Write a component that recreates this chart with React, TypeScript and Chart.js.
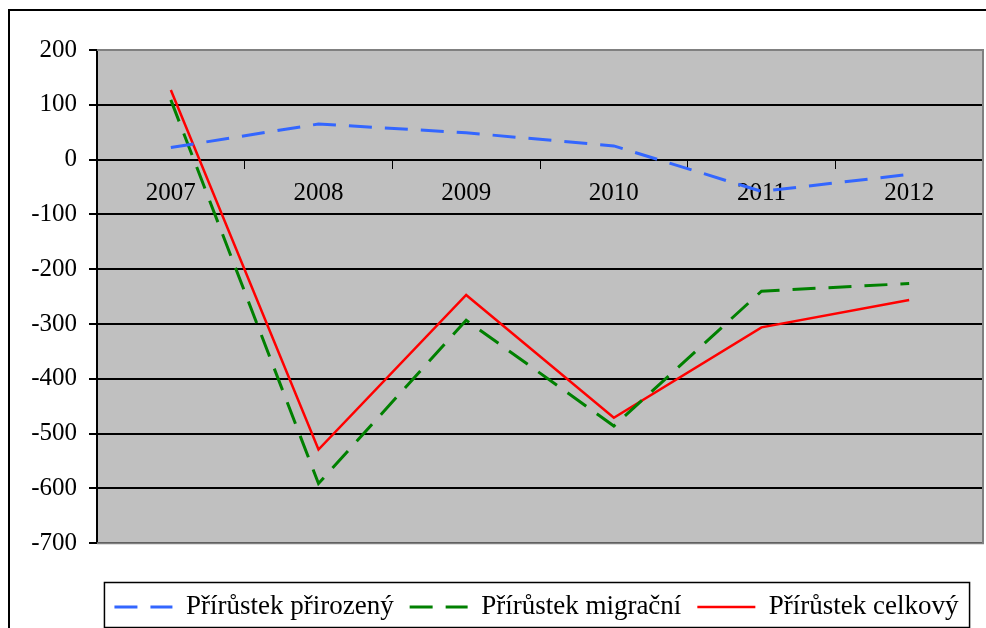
import React, { useEffect, useRef } from 'react';
import { Chart, registerables } from 'chart.js';

Chart.register(...registerables);

const categories = ['2007', '2008', '2009', '2010', '2011', '2012'];
const naturalGrowth = [22, 65, 49, 25, -58, -27];
const migrationGrowth = [109, -591, -293, -486, -240, -226];
const totalGrowth = [127, -529, -247, -471, -306, -256];
const seriesNames = ['Přírůstek přirozený', 'Přírůstek migrační', 'Přírůstek celkový'];
const yMin = -700;
const yMax = 200;
const yStep = 100;

const FONT = "'Liberation Serif', 'Times New Roman', serif";
const LEGEND_CENTER_X = 536.5;

const decorPlugin = {
  id: 'decor',
  afterUpdate(chart: any) {
    const lg = chart.legend;
    if (!lg) return;
    const dx = LEGEND_CENTER_X - (lg.left + lg.right) / 2;
    lg.left += dx;
    lg.right += dx;
    (lg.legendHitBoxes || []).forEach((h: any) => {
      h.left += dx;
    });
  },
  beforeDraw(chart: any) {
    const { ctx, chartArea: a } = chart;
    ctx.save();
    ctx.fillStyle = '#C0C0C0';
    ctx.fillRect(a.left, a.top, a.right - a.left, a.bottom - a.top);
    ctx.restore();
  },
  afterDraw(chart: any) {
    const { ctx, chartArea: a } = chart;
    ctx.save();
    // plot area border (top, right, bottom)
    ctx.strokeStyle = '#808080';
    ctx.lineWidth = 2;
    ctx.beginPath();
    ctx.moveTo(a.left, a.top);
    ctx.lineTo(a.right, a.top);
    ctx.lineTo(a.right, a.bottom);
    ctx.lineTo(a.left, a.bottom);
    ctx.stroke();
    // outer frame
    ctx.strokeStyle = '#000';
    ctx.lineWidth = 2;
    ctx.beginPath();
    ctx.moveTo(9, chart.height + 2);
    ctx.lineTo(9, 10);
    ctx.lineTo(chart.width + 2, 10);
    ctx.stroke();
    // legend box
    const hb = chart.legend && chart.legend.legendHitBoxes;
    if (hb && hb.length) {
      let l = Infinity, r = -Infinity, t = Infinity, b = -Infinity;
      hb.forEach((h: any) => {
        l = Math.min(l, h.left);
        r = Math.max(r, h.left + h.width);
        t = Math.min(t, h.top);
        b = Math.max(b, h.top + h.height);
      });
      ctx.strokeStyle = '#000';
      ctx.lineWidth = 1.5;
      ctx.strokeRect(l - 10, t - 11, r - l + 21, b - t + 18);
    }
    ctx.restore();
  },
};

export default function App() {
  const ref = useRef<HTMLCanvasElement>(null);
  useEffect(() => {
    if (!ref.current) return;
    const chart = new Chart(ref.current, {
      type: 'line',
      data: {
        labels: categories,
        datasets: [
          {
            label: seriesNames[0],
            data: naturalGrowth,
            borderColor: '#3366FF',
            backgroundColor: '#3366FF',
            borderWidth: 3,
            borderDash: [23, 13],
            pointRadius: 0,
            tension: 0,
          },
          {
            label: seriesNames[1],
            data: migrationGrowth,
            borderColor: '#008000',
            backgroundColor: '#008000',
            borderWidth: 3,
            borderDash: [23, 13],
            pointRadius: 0,
            tension: 0,
          },
          {
            label: seriesNames[2],
            data: totalGrowth,
            borderColor: '#FF0000',
            backgroundColor: '#FF0000',
            borderWidth: 2.5,
            pointRadius: 0,
            tension: 0,
          },
        ],
      },
      options: {
        animation: false,
        responsive: false,
        maintainAspectRatio: false,
        layout: { padding: { left: 20, right: 3, top: 50, bottom: -2.5 } },
        plugins: {
          tooltip: { enabled: false },
          legend: {
            position: 'bottom',
            title: { display: true, text: '', font: { size: 1 }, padding: { top: 33, bottom: 0 } },
            labels: {
              usePointStyle: true,
              pointStyle: 'line',
              pointStyleWidth: 58,
              boxHeight: 27,
              padding: 16,
              color: '#000',
              font: { family: FONT, size: 27 },
              generateLabels: (chart: any) => {
                const items = Chart.defaults.plugins.legend.labels.generateLabels(chart);
                return items.map((it: any) => {
                  const ds: any = chart.data.datasets[it.datasetIndex];
                  return {
                    ...it,
                    pointStyle: 'line',
                    strokeStyle: ds.borderColor,
                    fillStyle: ds.borderColor,
                    lineWidth: ds.borderWidth,
                    lineDash: ds.borderDash || [],
                    lineDashOffset: 0,
                  };
                });
              },
            },
          },
        },
        scales: {
          x: {
            type: 'category',
            position: { y: 0 } as any,
            offset: true,
            grid: {
              offset: true,
              drawOnChartArea: false,
              drawTicks: true,
              tickLength: 8,
              color: '#000',
              lineWidth: 1,
            },
            border: { display: true, color: '#000', width: 2 },
            ticks: {
              color: '#000',
              font: { family: FONT, size: 25 },
              padding: 11,
              maxRotation: 0,
              autoSkip: false,
            },
          },
          y: {
            min: yMin,
            max: yMax,
            afterFit: (s: any) => {
              s.width = 77;
            },
            grid: {
              color: '#000',
              lineWidth: 2,
              tickLength: 8,
            },
            border: { display: true, color: '#000', width: 2 },
            ticks: {
              stepSize: yStep,
              color: '#000',
              padding: 12,
              font: { family: FONT, size: 25 },
            },
          },
        },
      },
      plugins: [decorPlugin],
    });
    return () => chart.destroy();
  }, []);
  return (
    <div style={{ position: 'absolute', left: 0, top: 0, width: 986, height: 628, background: '#fff' }}>
      <canvas ref={ref} width={986} height={628} style={{ display: 'block' }} />
    </div>
  );
}
